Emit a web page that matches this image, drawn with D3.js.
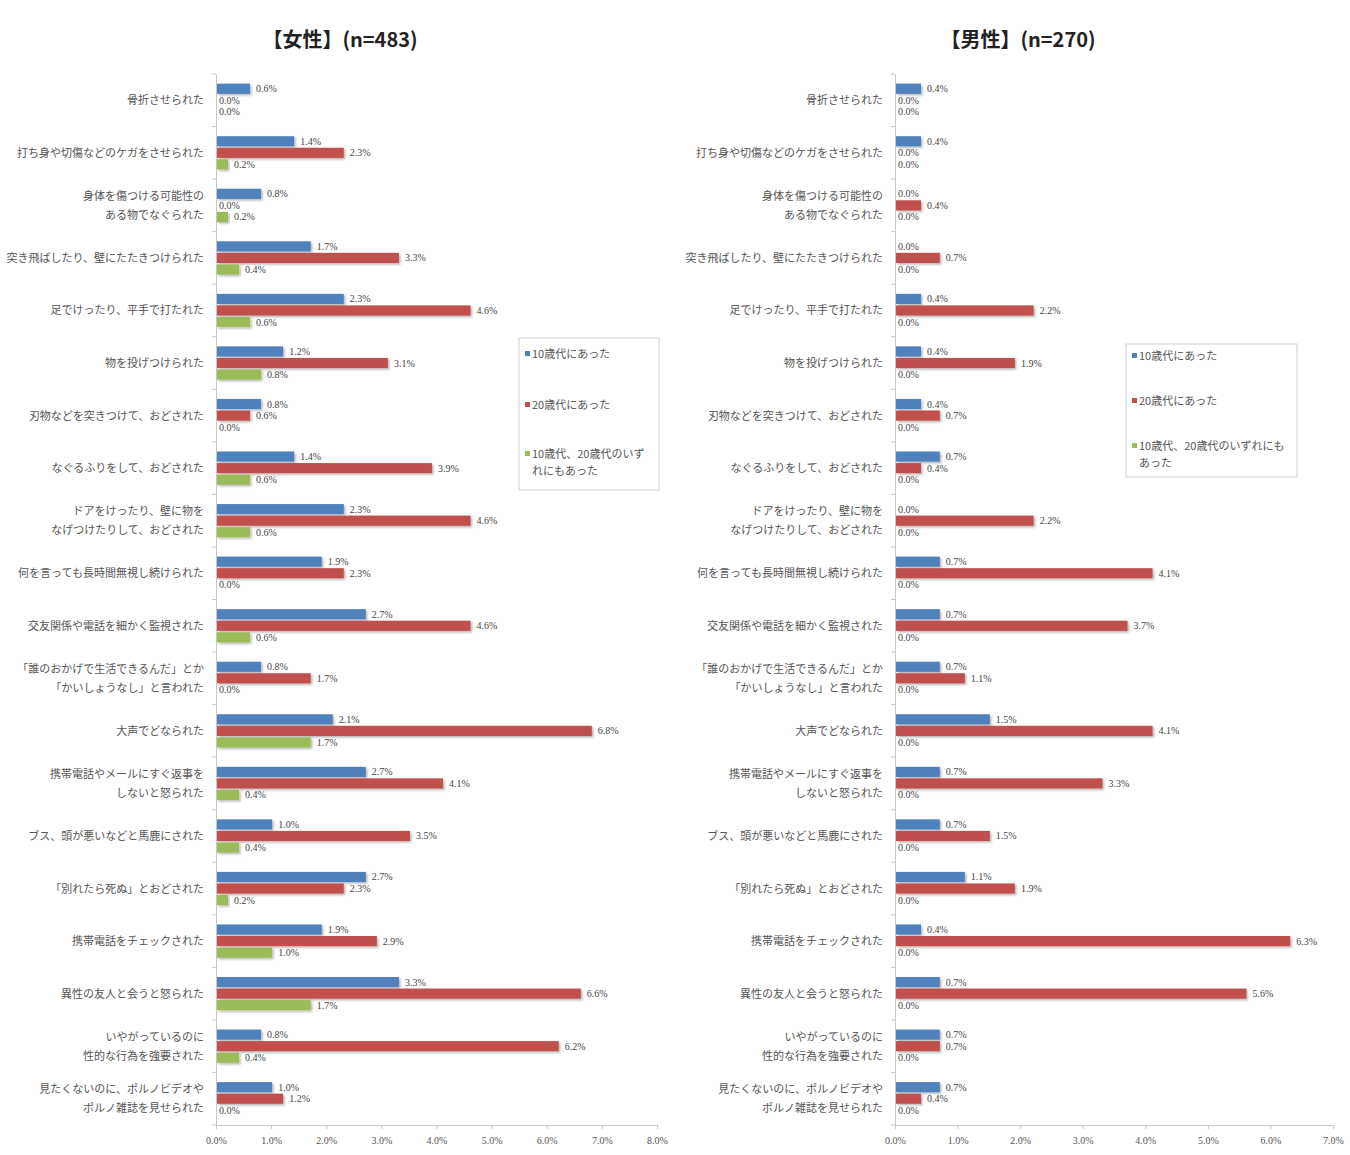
<!DOCTYPE html>
<html><head><meta charset="utf-8">
<script src="https://cdn.jsdelivr.net/npm/d3@7"></script>
<style>
body{margin:0;background:#fff;}
svg text{font-family:"Noto Sans CJK JP","Noto Sans",sans-serif;}
</style></head>
<body><svg id="c" width="1350" height="1155"></svg>
<script>
const categories = [
  "骨折させられた",
  "打ち身や切傷などのケガをさせられた",
  "身体を傷つける可能性の\nある物でなぐられた",
  "突き飛ばしたり、壁にたたきつけられた",
  "足でけったり、平手で打たれた",
  "物を投げつけられた",
  "刃物などを突きつけて、おどされた",
  "なぐるふりをして、おどされた",
  "ドアをけったり、壁に物を\nなげつけたりして、おどされた",
  "何を言っても長時間無視し続けられた",
  "交友関係や電話を細かく監視された",
  "「誰のおかげで生活できるんだ」とか\n「かいしょうなし」と言われた",
  "大声でどなられた",
  "携帯電話やメールにすぐ返事を\nしないと怒られた",
  "ブス、頭が悪いなどと馬鹿にされた",
  "「別れたら死ぬ」とおどされた",
  "携帯電話をチェックされた",
  "異性の友人と会うと怒られた",
  "いやがっているのに\n性的な行為を強要された",
  "見たくないのに、ポルノビデオや\nポルノ雑誌を見せられた"
];
const seriesNames = ["10歳代にあった","20歳代にあった","10歳代、20歳代のいずれにもあった"];
const femaleTeens   = [0.6,1.4,0.8,1.7,2.3,1.2,0.8,1.4,2.3,1.9,2.7,0.8,2.1,2.7,1.0,2.7,1.9,3.3,0.8,1.0];
const femaleTwenties= [0.0,2.3,0.0,3.3,4.6,3.1,0.6,3.9,4.6,2.3,4.6,1.7,6.8,4.1,3.5,2.3,2.9,6.6,6.2,1.2];
const femaleBoth    = [0.0,0.2,0.2,0.4,0.6,0.8,0.0,0.6,0.6,0.0,0.6,0.0,1.7,0.4,0.4,0.2,1.0,1.7,0.4,0.0];
const maleTeens     = [0.4,0.4,0.0,0.0,0.4,0.4,0.4,0.7,0.0,0.7,0.7,0.7,1.5,0.7,0.7,1.1,0.4,0.7,0.7,0.7];
const maleTwenties  = [0.0,0.0,0.4,0.7,2.2,1.9,0.7,0.4,2.2,4.1,3.7,1.1,4.1,3.3,1.5,1.9,6.3,5.6,0.7,0.4];
const maleBoth      = [0.0,0.0,0.0,0.0,0.0,0.0,0.0,0.0,0.0,0.0,0.0,0.0,0.0,0.0,0.0,0.0,0.0,0.0,0.0,0.0];
const femaleTicks = [0,1,2,3,4,5,6,7,8];
const maleTicks   = [0,1,2,3,4,5,6,7];
const colors = ["#4F81BD","#C0504D","#9BBB59"];

const svg = d3.select("#c");
const defs = svg.append("defs");
const f = defs.append("filter").attr("id","sh").attr("x","-5%").attr("y","-30%").attr("width","115%").attr("height","180%");
f.append("feDropShadow").attr("dx",1.5).attr("dy",1.5).attr("stdDeviation",0.8).attr("flood-color","#000").attr("flood-opacity",0.3);

function drawChart(cfg){
  const g = svg.append("g");
  const x = d3.scaleLinear().domain([0, cfg.max]).range([cfg.x0, cfg.x1]);
  const y = d3.scaleBand().domain(categories).range([74, 1125]).paddingInner(0).paddingOuter(0);
  const sub = d3.scaleBand().domain([0,1,2]).range([y.bandwidth()/2-18, y.bandwidth()/2+18]).padding(0.12);

  g.append("text").attr("x",cfg.titleX).attr("y",47).attr("text-anchor","middle")
   .attr("font-size",20).attr("font-weight","bold").attr("fill","#222").text(cfg.title);

  const xAxis = d3.axisBottom(x).tickValues(cfg.ticks).tickFormat(d=>d.toFixed(1)+"%").tickSize(4).tickSizeOuter(0);
  const ax = g.append("g").attr("transform",`translate(0,1125)`).call(xAxis);
  ax.select(".domain").attr("stroke","#c8c8c8");
  ax.selectAll(".tick line").attr("stroke","#c8c8c8");
  ax.selectAll(".tick text").attr("font-size",10).attr("fill","#555").attr("y",10).attr("dy","0.9em")
    .style("font-family","'Liberation Serif',serif");

  const yAxis = d3.axisLeft(y).tickFormat("").tickSize(0).tickSizeOuter(0);
  const ay = g.append("g").attr("transform",`translate(${cfg.x0},0)`).call(yAxis);
  ay.select(".domain").attr("stroke","#c8c8c8");
  ay.selectAll(".tick").remove();
  g.selectAll(".bt").data(d3.range(categories.length+1)).enter().append("line")
   .attr("x1",cfg.x0-4).attr("x2",cfg.x0).attr("y1",i=>74+i*y.step()).attr("y2",i=>74+i*y.step())
   .attr("stroke","#c8c8c8");

  categories.forEach((c,i)=>{
    const lines = c.split("\n");
    const cy = y(c)+y.bandwidth()/2;
    const t = g.append("text").attr("x",cfg.x0-12).attr("text-anchor","end")
      .attr("font-size",11).attr("fill","#555");
    lines.forEach((ln,j)=>{
      t.append("tspan").attr("x",cfg.x0-12)
       .attr("y", cy + (j-(lines.length-1)/2)*19 + 4).text(ln);
    });
  });

  cfg.series.forEach((arr,s)=>{
    const grp = g.append("g");
    grp.selectAll("rect").data(arr).enter().append("rect")
      .attr("x",x(0)+1).attr("y",(d,i)=>y(categories[i])+sub(s))
      .attr("width",d=>Math.max(0,x(d)-x(0)))
      .attr("height",sub.bandwidth())
      .attr("fill",colors[s]).attr("filter","url(#sh)");
    grp.selectAll("text").data(arr).enter().append("text")
      .attr("x",d=>x(d)+(d>0?7:3)).attr("y",(d,i)=>y(categories[i])+sub(s)+sub.bandwidth()/2+3.5)
      .attr("font-size",10).attr("fill","#444").style("font-family","'Liberation Serif',serif")
      .text(d=>d.toFixed(1)+"%");
  });

  const L = cfg.legend;
  const lg = g.append("g");
  lg.append("rect").attr("x",L.x).attr("y",L.y).attr("width",L.w).attr("height",L.h)
    .attr("fill","#fff").attr("stroke","#c9d0dc");
  seriesNames.forEach((n,s)=>{
    const yy = L.ys[s];
    lg.append("rect").attr("x",L.x+6).attr("y",yy-7).attr("width",5).attr("height",5).attr("fill",colors[s]);
    const t = lg.append("text").attr("font-size",11).attr("fill","#555");
    L.wrap[s].forEach((p,j)=>t.append("tspan").attr("x",L.x+13).attr("y",yy+j*17).text(p));
  });
}

drawChart({
  title:"【女性】(n=483)", titleX:340, x0:216, x1:657, max:8, ticks:femaleTicks,
  series:[femaleTeens,femaleTwenties,femaleBoth],
  legend:{x:519,y:338,w:140,h:152,ys:[358,409,458],
    wrap:[["10歳代にあった"],["20歳代にあった"],["10歳代、20歳代のいず","れにもあった"]]}
});
drawChart({
  title:"【男性】(n=270)", titleX:1018, x0:895, x1:1333, max:7, ticks:maleTicks,
  series:[maleTeens,maleTwenties,maleBoth],
  legend:{x:1126,y:344,w:171,h:133,ys:[360,405,450],
    wrap:[["10歳代にあった"],["20歳代にあった"],["10歳代、20歳代のいずれにも","あった"]]}
});
</script></body></html>
